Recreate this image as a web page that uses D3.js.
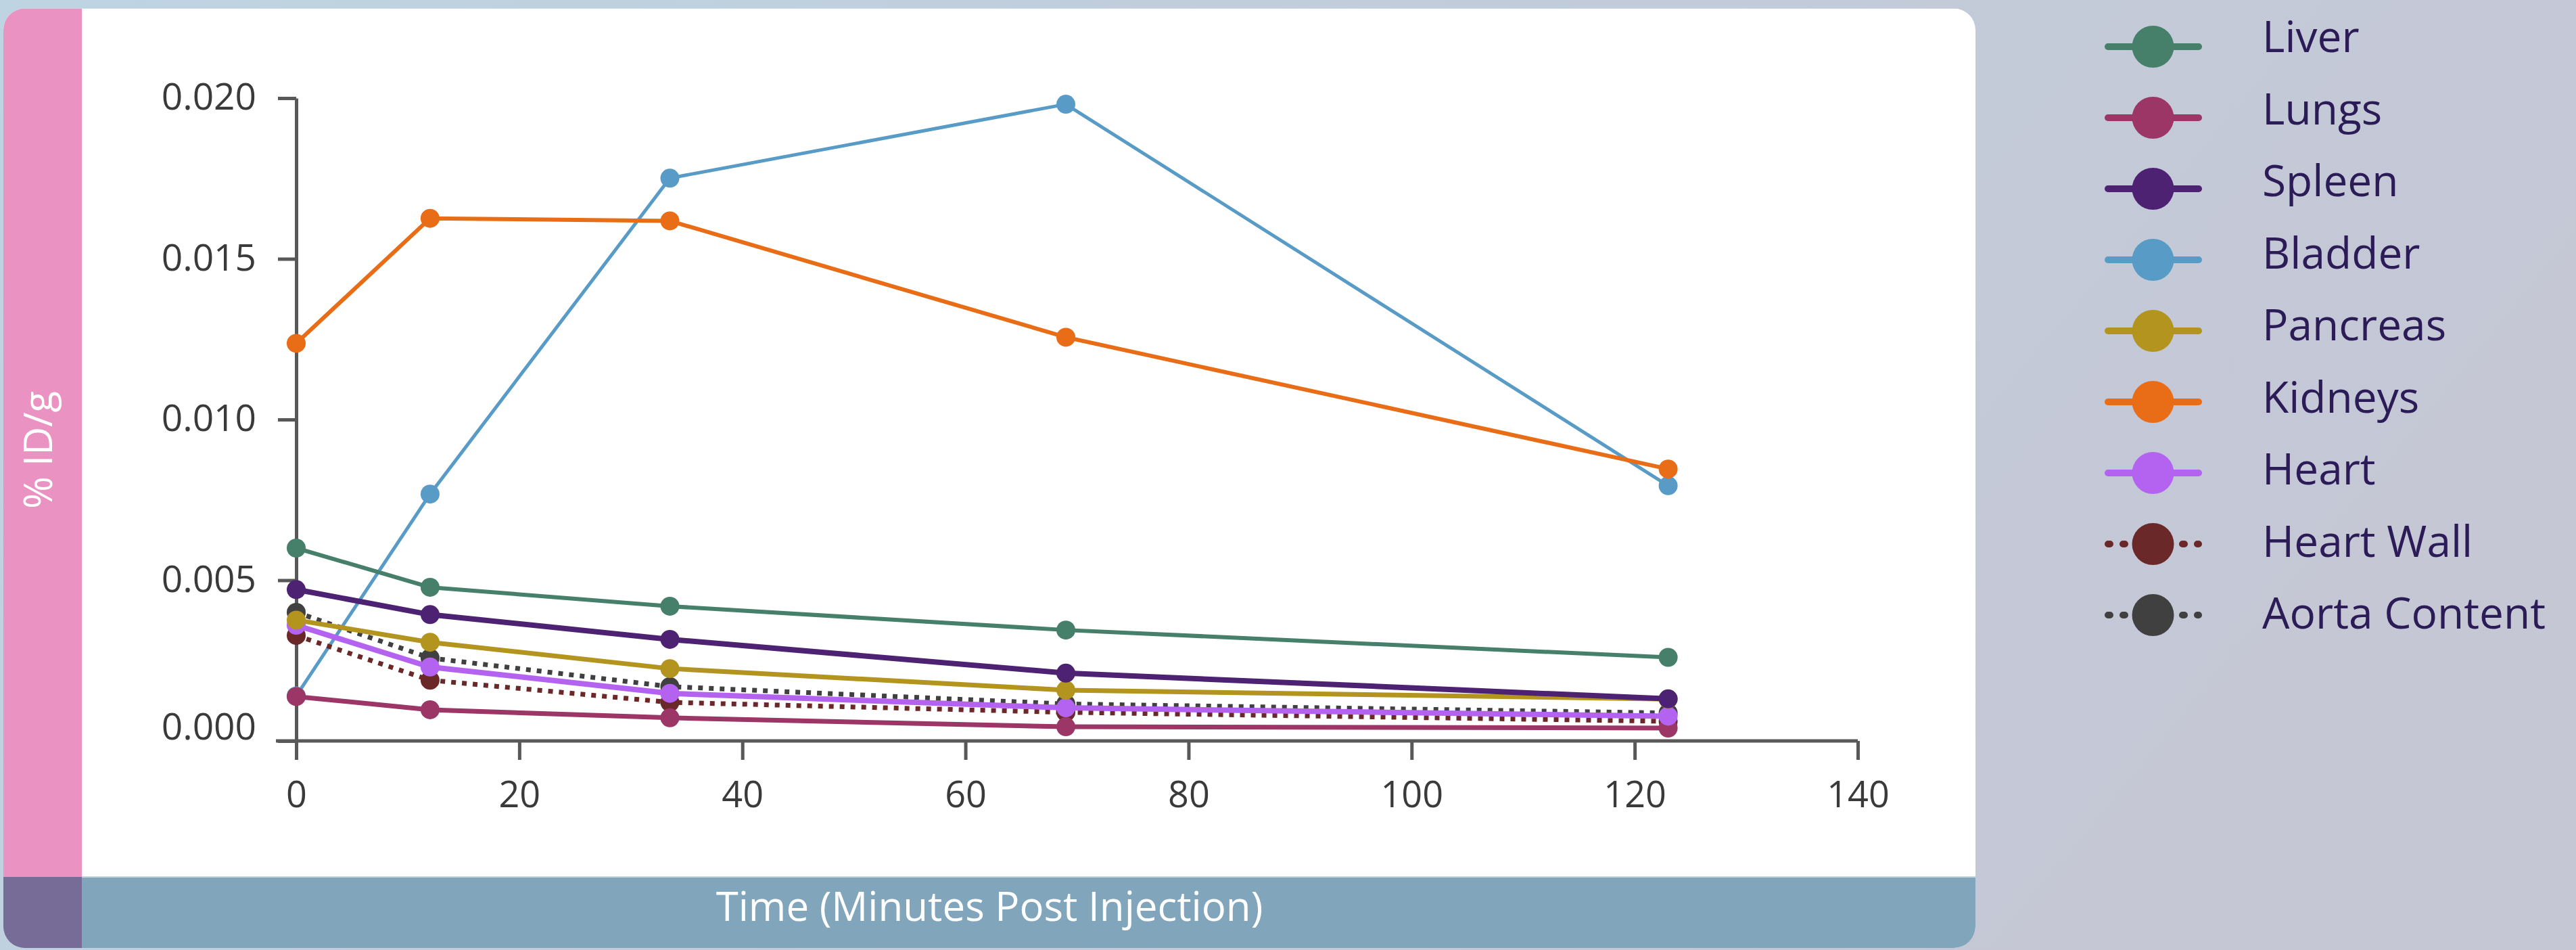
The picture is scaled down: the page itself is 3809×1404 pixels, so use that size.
<!DOCTYPE html>
<html>
<head>
<meta charset="utf-8">
<script src="https://cdn.jsdelivr.net/npm/d3@7"></script>
<style>
  body { margin: 0; }
  svg { display: block; font-family: "Open Sans", "Noto Sans", sans-serif; }
</style>
</head>
<body>
<svg id="graph" width="3809" height="1404"></svg>
<script>
// data (%ID/g vs minutes)
const times = [0, 12, 33.5, 69, 123]
const liver     = [0.00600, 0.00478, 0.00419, 0.00345, 0.00260]
const lungs     = [0.00138, 0.00097, 0.00072, 0.00044, 0.00040]
const spleen    = [0.00471, 0.00393, 0.00316, 0.00211, 0.00131]
const bladder   = [0.00140, 0.00768, 0.01751, 0.01981, 0.00794]
const pancreas  = [0.00376, 0.00307, 0.00225, 0.00158, 0.00130]
const kidneys   = [0.01237, 0.01626, 0.01618, 0.01256, 0.00846]
const heart     = [0.00360, 0.00230, 0.00148, 0.00103, 0.00077]
const heartWall = [0.00328, 0.00189, 0.00120, 0.00089, 0.00061]
const aorta     = [0.00400, 0.00258, 0.00169, 0.00115, 0.00087]

const xTicks = [0, 20, 40, 60, 80, 100, 120, 140]
const yTicks = [0, 0.005, 0.010, 0.015, 0.020]

// legend order
const series = [
  {name: 'Liver',         values: liver,     color: '#467f6a', w: 6, dotted: false},
  {name: 'Lungs',         values: lungs,     color: '#9b3666', w: 7, dotted: false},
  {name: 'Spleen',        values: spleen,    color: '#4e2272', w: 8, dotted: false},
  {name: 'Bladder',       values: bladder,   color: '#589bc6', w: 5, dotted: false},
  {name: 'Pancreas',      values: pancreas,  color: '#b2941f', w: 7, dotted: false},
  {name: 'Kidneys',       values: kidneys,   color: '#e96c17', w: 6, dotted: false},
  {name: 'Heart',         values: heart,     color: '#b462f0', w: 8, dotted: false},
  {name: 'Heart Wall',    values: heartWall, color: '#6b2828', w: 7, dotted: true},
  {name: 'Aorta Content', values: aorta,     color: '#404040', w: 7, dotted: true}
]
// paint order, bottom to top
const drawOrder = ['Bladder','Aorta Content','Heart Wall','Lungs','Heart','Liver','Pancreas','Spleen','Kidneys']

const svg = d3.select('#graph'),
      W = +svg.attr('width'),
      H = +svg.attr('height')

const defs = svg.append('defs')
const grad = defs.append('linearGradient').attr('id','bg').attr('x1','0').attr('x2','1').attr('y1','0').attr('y2','0.3')
grad.append('stop').attr('offset','0').attr('stop-color','#bed4e2')
grad.append('stop').attr('offset','0.5').attr('stop-color','#c1cddb')
grad.append('stop').attr('offset','1').attr('stop-color','#c5c7d5')

svg.append('rect').attr('width',W).attr('height',H).attr('fill','url(#bg)')

// card
const card = {x: 5, y: 12.5, r: 32, right: 2921, bottom: 1401}
defs.append('clipPath').attr('id','cardclip')
  .append('rect')
  .attr('x',card.x).attr('y',card.y)
  .attr('width',card.right-card.x).attr('height',card.bottom-card.y)
  .attr('rx',card.r)

const cardG = svg.append('g').attr('clip-path','url(#cardclip)')
const bandTop = 1296, pinkRight = 121
cardG.append('rect').attr('x',card.x).attr('y',card.y).attr('width',card.right-card.x).attr('height',card.bottom-card.y).attr('fill','#ffffff')
cardG.append('rect').attr('x',card.x).attr('y',card.y).attr('width',pinkRight-card.x).attr('height',bandTop-card.y).attr('fill','#ea92c1')
cardG.append('rect').attr('x',card.x).attr('y',bandTop).attr('width',card.right-card.x).attr('height',card.bottom-bandTop).attr('fill','#81a5bb')
cardG.append('rect').attr('x',card.x).attr('y',bandTop).attr('width',pinkRight-card.x).attr('height',card.bottom-bandTop).attr('fill','#776c97')
cardG.append('line').attr('x1',pinkRight).attr('x2',card.right).attr('y1',bandTop).attr('y2',bandTop)
  .attr('stroke','#c3d3de').attr('stroke-width',2)

// scales
const x = d3.scaleLinear().domain([0,140]).range([438, 2747])
const y = d3.scaleLinear().domain([0,0.02]).range([1095, 145])

const axisColor = '#585858', tickText = '#3a3a3a'

const gx = svg.append('g').attr('transform',`translate(0,${y(0)})`)
  .call(d3.axisBottom(x).tickValues(xTicks).tickFormat(d3.format('d')).tickSizeInner(28).tickSizeOuter(0).tickPadding(32))
gx.select('.domain').attr('stroke',axisColor).attr('stroke-width',5).attr('d',`M${x(0)-30},0H${x(140)}`)
gx.selectAll('.tick line').attr('stroke',axisColor).attr('stroke-width',5)
gx.selectAll('.tick text').attr('fill',tickText).attr('font-size',54).attr('font-family','"Open Sans", sans-serif')

const gy = svg.append('g').attr('transform',`translate(${x(0)},0)`)
  .call(d3.axisLeft(y).tickValues(yTicks).tickFormat(d3.format('.3f')).tickSizeInner(27).tickSizeOuter(0).tickPadding(32))
gy.select('.domain').attr('stroke',axisColor).attr('stroke-width',5)
gy.selectAll('.tick line').attr('stroke',axisColor).attr('stroke-width',5)
gy.selectAll('.tick text').attr('fill',tickText).attr('font-size',55).attr('font-family','"Open Sans", sans-serif')
  .attr('dy', d => d === 0 ? '-0.05em' : '0.3em')

// axis titles
svg.append('text')
  .attr('transform','translate(77,665) rotate(-90)')
  .attr('text-anchor','middle')
  .attr('fill','#ffffff')
  .attr('font-size',58)
  .text('% ID/g')

svg.append('text')
  .attr('x',(card.x+card.right)/2).attr('y',1361)
  .attr('text-anchor','middle')
  .attr('fill','#ffffff')
  .attr('font-size',60)
  .text('Time (Minutes Post Injection)')

// lines + markers
const line = d3.line().x((d,i)=>x(times[i])).y(d=>y(d))
const ordered = drawOrder.map(n => series.find(s => s.name === n))

const plot = svg.append('g')
const sg = plot.selectAll('.series').data(ordered).enter().append('g').attr('class','series')
sg.append('path')
  .attr('d', d => line(d.values))
  .attr('fill','none')
  .attr('stroke', d => d.color)
  .attr('stroke-width', d => d.w)
  .attr('stroke-dasharray', d => d.dotted ? '7,9' : null)
sg.selectAll('circle').data(d => d.values.map((v,i) => ({v:v, t:times[i], color:d.color})))
  .enter().append('circle')
  .attr('cx', d => x(d.t))
  .attr('cy', d => y(d.v))
  .attr('r', 14)
  .attr('fill', d => d.color)

// legend
const leg = svg.append('g')
const items = leg.selectAll('.item').data(series).enter().append('g').attr('class','item')
items.append('line')
  .attr('x1',3117).attr('x2',3251)
  .attr('y1',(d,i)=>69+i*105).attr('y2',(d,i)=>69+i*105)
  .attr('stroke',d=>d.color).attr('stroke-width',10).attr('stroke-linecap','round')
  .attr('stroke-dasharray', d => d.dotted ? '3,19' : null)
items.append('circle')
  .attr('cx',3183.5).attr('cy',(d,i)=>69+i*105).attr('r',31)
  .attr('fill',d=>d.color)
items.append('text')
  .attr('x',3345).attr('y',(d,i)=>77+i*106.5)
  .attr('fill','#2b1b56')
  .attr('font-size',64)
  .text(d=>d.name)
</script>
</body>
</html>
